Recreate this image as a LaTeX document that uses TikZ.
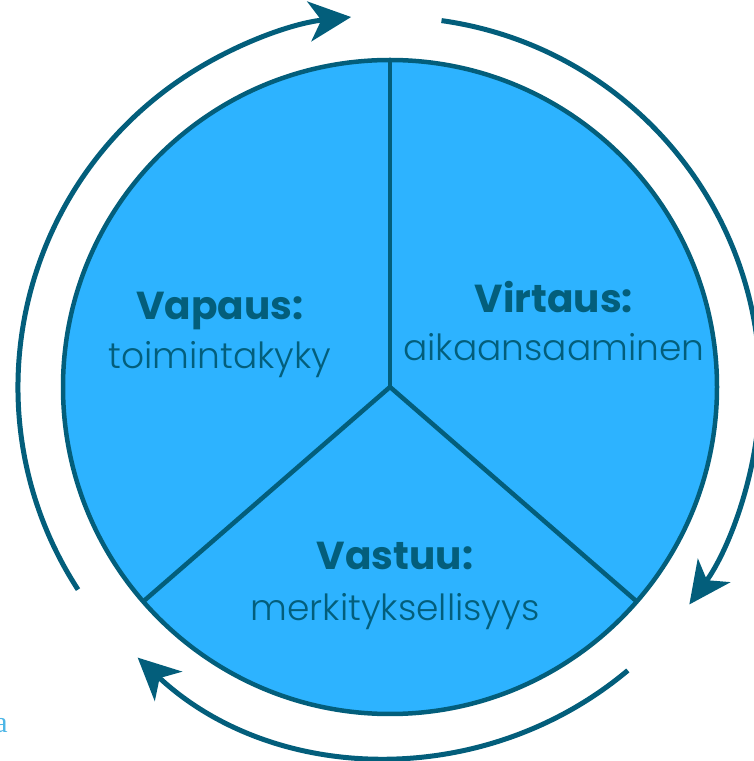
\documentclass[tikz,border=0pt]{standalone}
\usepackage{fontspec}
\setmainfont{Poppins}
\newfontfamily\thinfont{Poppins Light}
\newfontfamily\serifletter{Liberation Serif}
\usetikzlibrary{arrows.meta}

\definecolor{petrol}{HTML}{035E7B}
\definecolor{skyfill}{HTML}{2DB3FF}
\definecolor{linkblue}{HTML}{4DB6E6}

\begin{document}
\begin{tikzpicture}[x=1pt, y=1pt,
    rim/.style={draw=petrol, line width=4.5pt},
    cyclearc/.style={draw=petrol, line width=5pt,
        -{Stealth[length=42pt, width=40pt, inset=12pt]}},
    headtext/.style={anchor=base, text=petrol, font=\bfseries\fontsize{39}{39}\selectfont},
    subtext/.style={anchor=base, text=petrol, font=\thinfont\fontsize{36}{36}\selectfont}]
    \useasboundingbox (0,0) rectangle (754,761);

    % Define disc
    \node (disc) [circle, minimum size=654pt, inner sep=0pt, outer sep=0pt,
        fill=skyfill, rim] at (390,374) {};
    \draw[rim] (disc.center) -- (disc.90);
    \draw[rim] (disc.center) -- (disc.221.5);
    \draw[rim] (disc.center) -- (disc.319.5);

    % Draw labels
    \node (vapaus) [headtext] at (220,441) {Vapaus:};
    \node (vapaussub) [subtext] at (220,392) {toimintakyky};
    \node (virtaus) [headtext] at (554,448) {Virtaus:};
    \node (virtaussub) [subtext] at (554,400) {aikaansaaminen};
    \node (vastuu) [headtext] at (395,191) {Vastuu:};
    \node (vastuusub) [subtext] at (395,140) {merkityksellisyys};

    % Draw arrows
    \draw[cyclearc] ([shift={(213:372)}]disc.center) arc[start angle=213, end angle=96, radius=372];
    \draw[cyclearc] ([shift={(82:370)}]disc.center) arc[start angle=82, end angle=-36, radius=370];
    \draw[cyclearc] ([shift={(-50:370)}]disc.center) arc[start angle=-50, end angle=-133, radius=370];

    \node (edgea) [anchor=base east, inner sep=0pt, text=linkblue,
        font=\serifletter\fontsize{30}{30}\selectfont] at (8,28) {a};
\end{tikzpicture}
\end{document}
